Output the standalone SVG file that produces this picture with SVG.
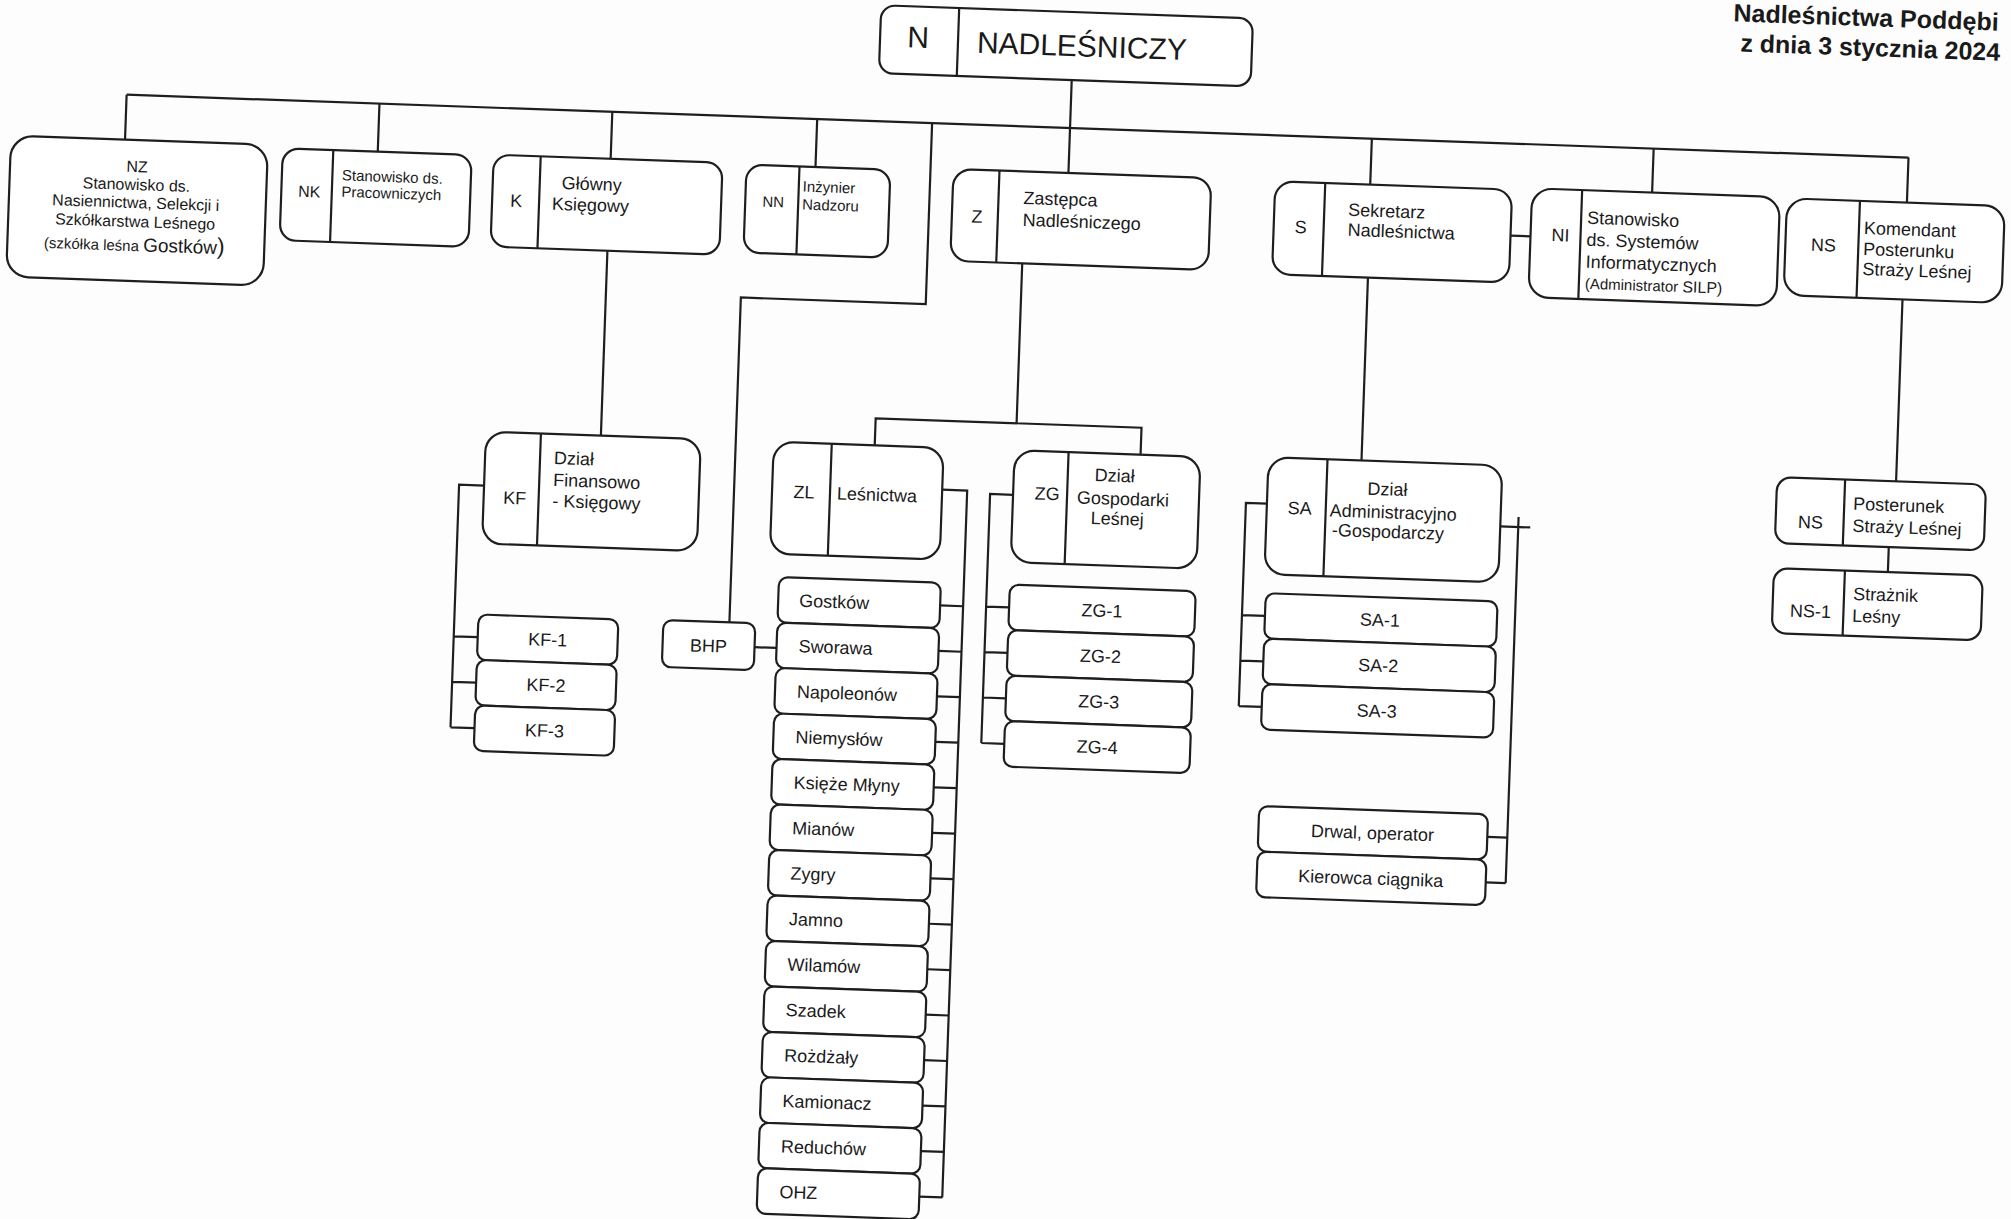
<svg xmlns="http://www.w3.org/2000/svg" width="2011" height="1219" viewBox="0 0 2011 1219">
<style>
.b{fill:#fff;stroke:#1e1e1e;stroke-width:2.2}
.d{stroke:#1e1e1e;stroke-width:2.2}
.l{fill:none;stroke:#1e1e1e;stroke-width:2.2}
text{font-family:"Liberation Sans",Arial,sans-serif;fill:#1a1a1a;font-size:18px}
.s15{font-size:15px}
.s16{font-size:16px}
.m{text-anchor:middle}
.h{font-size:30px}
.ti{font-size:25px;font-weight:bold}
</style>
<rect width="2011" height="1219" fill="#fdfdfd"/>
<g transform="rotate(2.02 1005 610)">
<text class="ti" x="1712" y="-4">Nadleśnictwa Poddębi</text>
<text class="ti" x="1720" y="26">z dnia 3 stycznia 2024</text>

<g id="connectors" class="l">
<path d="M109 126H1892"/>
<path d="M109 126V171M362 126V174M595 126V173M800 126V174M1355 126V172M1637 126V170M1892 126V171"/>
<path d="M1053 78V171"/>
<path d="M595 265V450"/>
<path d="M915 126V307H730V632"/>
<path d="M756 656H778"/>
<path d="M1010 263V423M869 450V423H1135V450"/>
<path d="M1356 265V448"/>
<path d="M1497 218H1517"/>
<path d="M1891 268V450M1886 516V541"/>
<path d="M480 504H455V746.75M455 655.75H479M455 701.25H479M455 746.75H479"/>
<path d="M938 492H963V1199.25M940 607.75H963M940 653.25H963M940 698.75H963M940 744.25H963M940 789.75H963M940 835.25H963M940 880.75H963M940 926.25H963M940 971.75H963M940 1017.25H963M940 1062.75H963M940 1108.25H963M940 1153.75H963M940 1199.25H963"/>
<path d="M1009 494.6H986V743.75M986 607.25H1009M986 652.75H1009M986 698.25H1009M986 743.75H1009"/>
<path d="M1263 494.5H1242V697.75M1242 606.75H1265M1242 652.25H1265M1242 697.75H1265"/>
<path d="M1497 509H1527M1515 499V865.25M1495 819.75H1515M1495 865.25H1515"/>
</g>

<g id="N"><rect class="b" x="860" y="10" width="372" height="68" rx="14"/><line class="d" x1="938" y1="10" x2="938" y2="78"/><text class="h m" x="898" y="51">N</text><text class="h" x="957" y="54">NADLEŚNICZY</text></g>

<g id="NZ"><rect class="b" x="-5" y="171" width="257" height="141" rx="22"/>
<text class="s16 m" x="122" y="203">NZ</text>
<text class="s16 m" x="122" y="221">Stanowisko ds.</text>
<text class="s16 m" x="122" y="239">Nasiennictwa, Selekcji i</text>
<text class="s16 m" x="122" y="258">Szkółkarstwa Leśnego</text>
<text class="m" x="122" y="282"><tspan class="s15">(szkółka leśna  </tspan><tspan font-size="19">Gostków</tspan><tspan font-size="23">)</tspan></text></g>

<g id="NK"><rect class="b" x="267" y="174" width="189" height="92" rx="16"/><line class="d" x1="317.5" y1="174" x2="317.5" y2="266"/><text class="s16 m" x="295" y="222">NK</text><text class="s15" x="327" y="204">Stanowisko ds.</text><text class="s15" x="327" y="220.5">Pracowniczych</text></g>

<g id="K"><rect class="b" x="478" y="173" width="229" height="92" rx="16"/><line class="d" x1="525" y1="173" x2="525" y2="265"/><text class="m" x="502" y="224.5">K</text><text x="547" y="205">Główny</text><text x="538" y="226">Księgowy</text></g>

<g id="NN"><rect class="b" x="731" y="174" width="144" height="88" rx="16"/><line class="d" x1="784" y1="174" x2="784" y2="262"/><text class="s15 m" x="759" y="215.5">NN</text><text class="s15" x="788" y="199">Inżynier</text><text class="s15" x="788" y="217">Nadzoru</text></g>

<g id="Z"><rect class="b" x="938" y="171" width="258" height="92" rx="18"/><line class="d" x1="984" y1="171" x2="984" y2="263"/><text class="m" x="963" y="224">Z</text><text x="1009" y="203.5">Zastępca</text><text x="1009" y="225.5">Nadleśniczego</text></g>

<g id="S"><rect class="b" x="1260" y="172" width="237" height="93" rx="18"/><line class="d" x1="1310" y1="172" x2="1310" y2="265"/><text class="m" x="1287" y="223">S</text><text x="1334" y="204">Sekretarz</text><text x="1334" y="224">Nadleśnictwa</text></g>

<g id="NI"><rect class="b" x="1517" y="170" width="248" height="109" rx="20"/><line class="d" x1="1567" y1="170" x2="1567" y2="279"/><text class="m" x="1547" y="222">NI</text><text x="1573" y="203.5">Stanowisko</text><text x="1573" y="225.5">ds. Systemów</text><text x="1573" y="247.5">Informatycznych</text><text x="1573" y="268.5"><tspan class="s15">(Administrator  </tspan><tspan class="s16">SILP)</tspan></text></g>

<g id="NS"><rect class="b" x="1772" y="171" width="218" height="97" rx="20"/><line class="d" x1="1845" y1="171" x2="1845" y2="268"/><text class="m" x="1810" y="222.5">NS</text><text x="1850" y="204">Komendant</text><text x="1850" y="225">Posterunku</text><text x="1850" y="245">Straży Leśnej</text></g>

<g id="KF"><rect class="b" x="480" y="450" width="215" height="112" rx="20"/><line class="d" x1="535" y1="450" x2="535" y2="562"/><text class="m" x="511" y="521.5">KF</text><text x="549" y="480">Dział</text><text x="549" y="502">Finansowo</text><text x="549" y="523">- Księgowy</text></g>

<g id="ZL"><rect class="b" x="768" y="450" width="170" height="112" rx="20"/><line class="d" x1="826" y1="450" x2="826" y2="562"/><text class="m" x="800" y="505.5">ZL</text><text x="833" y="505.5">Leśnictwa</text></g>

<g id="ZG"><rect class="b" x="1009" y="450" width="186" height="112" rx="20"/><line class="d" x1="1063" y1="450" x2="1063" y2="562"/><text class="m" x="1043" y="498.5">ZG</text><text class="m" x="1110" y="478">Dział</text><text class="m" x="1119" y="501">Gospodarki</text><text class="m" x="1114" y="521">Leśnej</text></g>

<g id="SA"><rect class="b" x="1263" y="448" width="234" height="117" rx="20"/><line class="d" x1="1322" y1="448" x2="1322" y2="565"/><text class="m" x="1296" y="504">SA</text><text class="m" x="1383" y="482">Dział</text><text x="1326" y="505">Administracyjno</text><text x="1329" y="524.5">-Gospodarczy</text></g>

<g id="NSP"><rect class="b" x="1772" y="450" width="209" height="66" rx="14"/><line class="d" x1="1840" y1="450" x2="1840" y2="516"/><text class="m" x="1807" y="500">NS</text><text x="1849" y="480">Posterunek</text><text x="1849" y="502">Straży Leśnej</text></g>

<g id="NS-1"><rect class="b" x="1772" y="541" width="209" height="65" rx="14"/><line class="d" x1="1843" y1="541" x2="1843" y2="606"/><text class="m" x="1810" y="589">NS-1</text><text x="1852" y="570">Strażnik</text><text x="1852" y="592">Leśny</text></g>

<g id="BHP"><rect class="b" x="664" y="632" width="92" height="47" rx="9"/><text class="m" x="710" y="662.5">BHP</text></g>

<g id="KF-1"><rect class="b" x="479" y="633" width="140" height="45.5" rx="9"/><text class="m" x="549" y="662">KF-1</text></g>
<g id="KF-2"><rect class="b" x="479" y="678.5" width="140" height="45.5" rx="9"/><text class="m" x="549" y="707.5">KF-2</text></g>
<g id="KF-3"><rect class="b" x="479" y="724" width="140" height="45.5" rx="9"/><text class="m" x="549" y="753">KF-3</text></g>

<g id="L01"><rect class="b" x="778" y="585" width="162" height="45.5" rx="9"/><text x="799" y="614">Gostków</text></g>
<g id="L02"><rect class="b" x="778" y="630.5" width="162" height="45.5" rx="9"/><text x="800" y="659.5">Sworawa</text></g>
<g id="L03"><rect class="b" x="778" y="676" width="162" height="45.5" rx="9"/><text x="800" y="705">Napoleonów</text></g>
<g id="L04"><rect class="b" x="778" y="721.5" width="162" height="45.5" rx="9"/><text x="800" y="750.5">Niemysłów</text></g>
<g id="L05"><rect class="b" x="778" y="767" width="162" height="45.5" rx="9"/><text x="800" y="796">Księże Młyny</text></g>
<g id="L06"><rect class="b" x="778" y="812.5" width="162" height="45.5" rx="9"/><text x="800" y="841.5">Mianów</text></g>
<g id="L07"><rect class="b" x="778" y="858" width="162" height="45.5" rx="9"/><text x="800" y="887">Zygry</text></g>
<g id="L08"><rect class="b" x="778" y="903.5" width="162" height="45.5" rx="9"/><text x="800" y="932.5">Jamno</text></g>
<g id="L09"><rect class="b" x="778" y="949" width="162" height="45.5" rx="9"/><text x="800" y="978">Wilamów</text></g>
<g id="L10"><rect class="b" x="778" y="994.5" width="162" height="45.5" rx="9"/><text x="800" y="1023.5">Szadek</text></g>
<g id="L11"><rect class="b" x="778" y="1040" width="162" height="45.5" rx="9"/><text x="800" y="1069">Rożdżały</text></g>
<g id="L12"><rect class="b" x="778" y="1085.5" width="162" height="45.5" rx="9"/><text x="800" y="1114.5">Kamionacz</text></g>
<g id="L13"><rect class="b" x="778" y="1131" width="162" height="45.5" rx="9"/><text x="800" y="1160">Reduchów</text></g>
<g id="L14"><rect class="b" x="778" y="1176.5" width="162" height="45.5" rx="9"/><text x="800" y="1205.5">OHZ</text></g>

<g id="ZG-1"><rect class="b" x="1009" y="584.5" width="186" height="45.5" rx="9"/><text class="m" x="1102" y="613.5">ZG-1</text></g>
<g id="ZG-2"><rect class="b" x="1009" y="630" width="186" height="45.5" rx="9"/><text class="m" x="1102" y="659">ZG-2</text></g>
<g id="ZG-3"><rect class="b" x="1009" y="675.5" width="186" height="45.5" rx="9"/><text class="m" x="1102" y="704.5">ZG-3</text></g>
<g id="ZG-4"><rect class="b" x="1009" y="721" width="186" height="45.5" rx="9"/><text class="m" x="1102" y="750">ZG-4</text></g>

<g id="SA-1"><rect class="b" x="1265" y="584" width="232" height="45.5" rx="9"/><text class="m" x="1380" y="613">SA-1</text></g>
<g id="SA-2"><rect class="b" x="1265" y="629.5" width="232" height="45.5" rx="9"/><text class="m" x="1380" y="658.5">SA-2</text></g>
<g id="SA-3"><rect class="b" x="1265" y="675" width="232" height="45.5" rx="9"/><text class="m" x="1380" y="704">SA-3</text></g>

<g id="Drwal"><rect class="b" x="1266" y="797" width="229" height="45.5" rx="9"/><text class="m" x="1380" y="826">Drwal, operator</text></g>
<g id="Kierowca"><rect class="b" x="1266" y="842.5" width="229" height="45.5" rx="9"/><text class="m" x="1380" y="871.5">Kierowca ciągnika</text></g>
</g>
</svg>
